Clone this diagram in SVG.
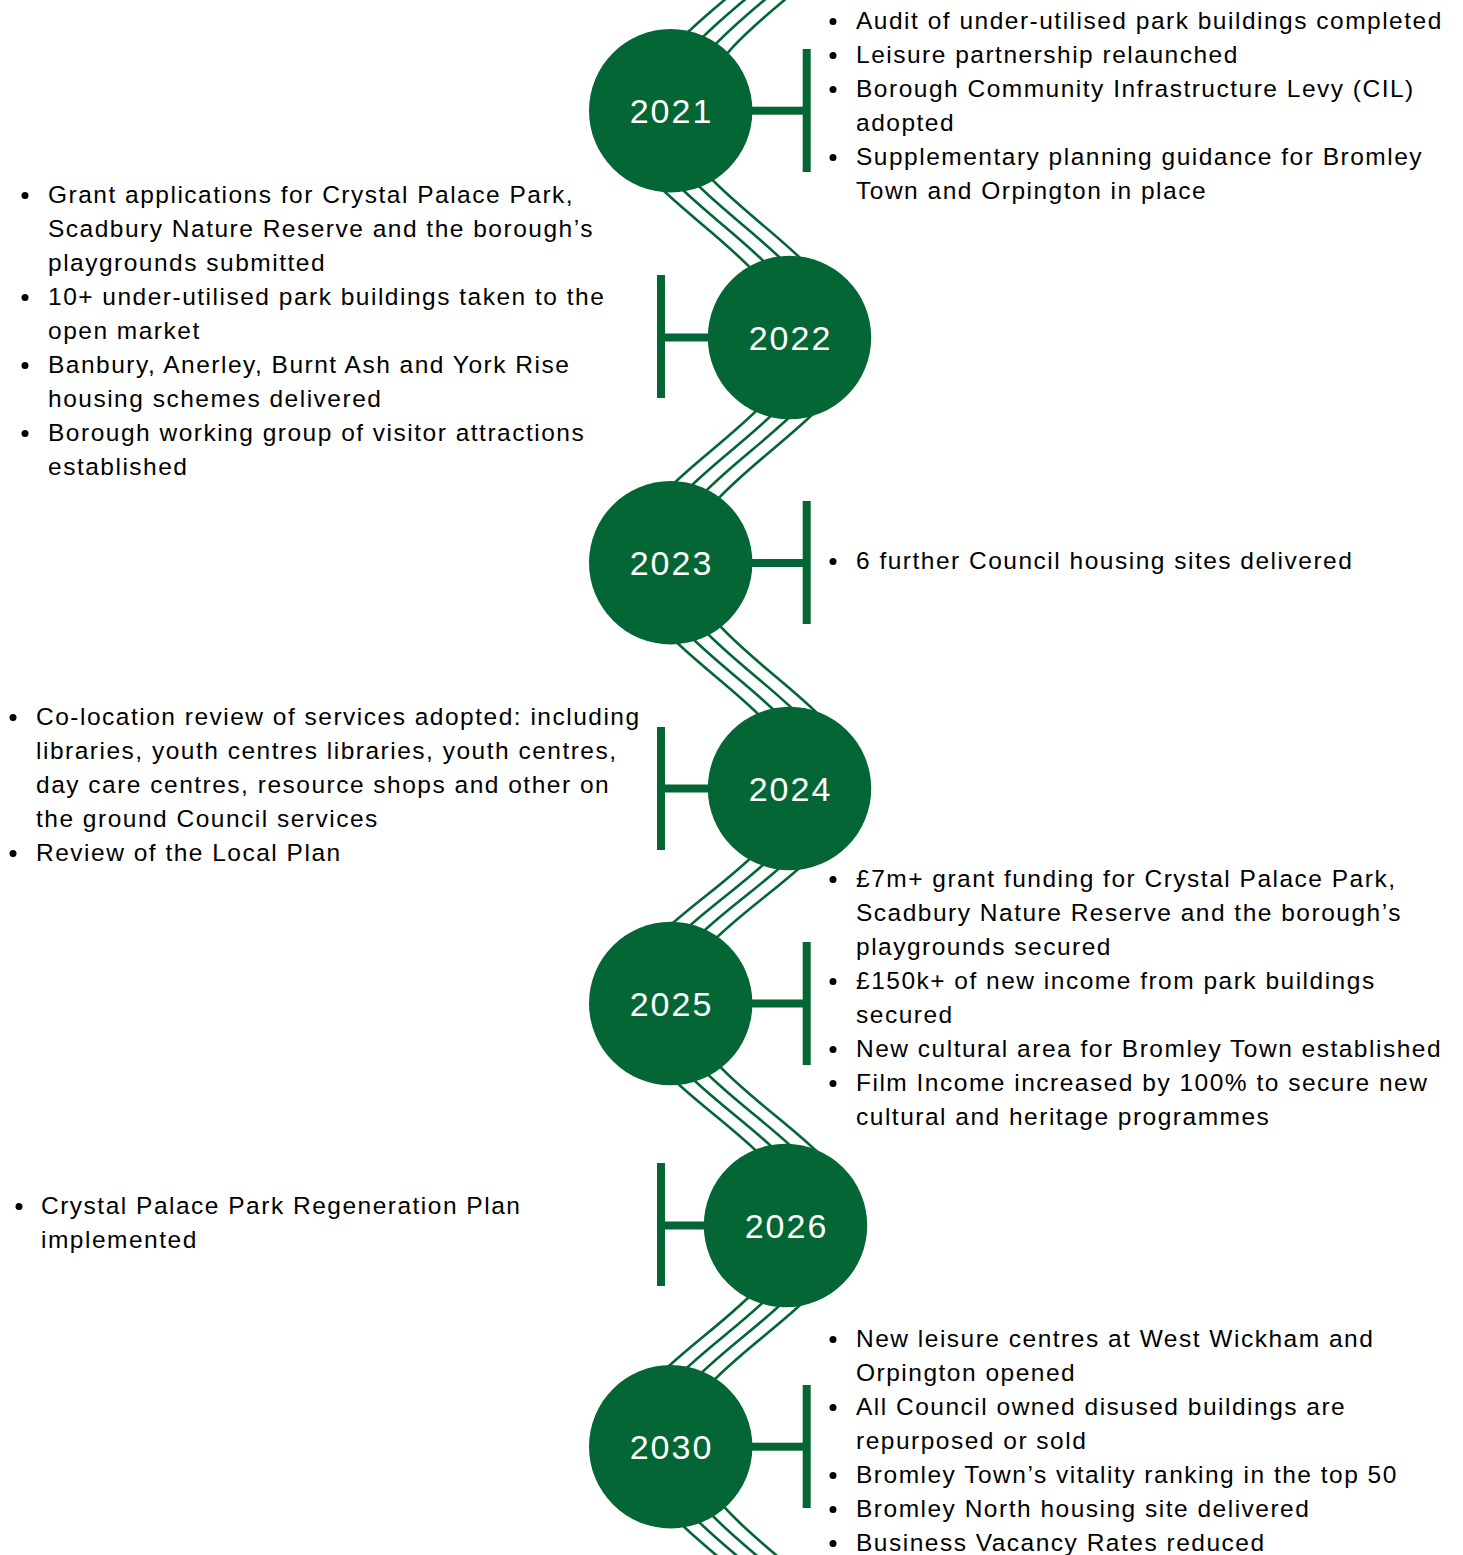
<svg xmlns="http://www.w3.org/2000/svg" xmlns:xlink="http://www.w3.org/1999/xlink" width="1463" height="1555" viewBox="0 0 1463 1555">
<style>
.node{fill:#036634}
.bar{fill:#036634}
.yr{font-family:"Liberation Sans",Arial,sans-serif;font-size:34px;letter-spacing:2px;fill:#ffffff;text-anchor:middle}
.txt{font-family:"Liberation Sans",Arial,sans-serif;font-size:24.5px;letter-spacing:1.5px;fill:#000000}
.dot{fill:#000000}
.wave{fill:none;stroke:#036634;stroke-width:2.6}
</style>
<defs>
<path id="wave" d="M844,-116 C844,-33.7 672,27.7 672,110 M645,110 C645,192.6 817,254.4 817,337 M828,337 C828,419.3 656,480.7 656,563 M659,563 C659,645.3 831,706.7 831,789 M821,789 C821,867.3 649,925.7 649,1004 M658,1004 C658,1084.4 830,1144.6 830,1225 M820,1225 C820,1305.8 648,1366.2 648,1447 M666,1447 C666,1529.3 838,1590.7 838,1673"/>
</defs>
<rect width="1463" height="1555" fill="#ffffff"/>
<g id="connectors" class="wave">
<use xlink:href="#wave" href="#wave" x="-30"/>
<use xlink:href="#wave" href="#wave" x="-10"/>
<use xlink:href="#wave" href="#wave" x="10"/>
<use xlink:href="#wave" href="#wave" x="30"/>
</g>
<g id="node-2021">
<rect class="bar" x="740" y="106.7" width="68" height="8"/>
<rect class="bar" x="802.7" y="49" width="8" height="123"/>
<circle class="node" cx="670.7" cy="110.7" r="81.7"/>
<text class="yr" x="671.5" y="122.7">2021</text>
<g class="dot"><circle cx="833" cy="21.5" r="3.5"/><circle cx="833" cy="55.5" r="3.5"/><circle cx="833" cy="89.5" r="3.5"/><circle cx="833" cy="157.5" r="3.5"/></g>
<text class="txt"><tspan x="856" y="29">Audit of under-utilised park buildings completed</tspan><tspan x="856" y="63">Leisure partnership relaunched</tspan><tspan x="856" y="97">Borough Community Infrastructure Levy (CIL)</tspan><tspan x="856" y="131">adopted</tspan><tspan x="856" y="165">Supplementary planning guidance for Bromley</tspan><tspan x="856" y="199">Town and Orpington in place</tspan></text>
</g>
<g id="node-2022">
<rect class="bar" x="657" y="333.5" width="65" height="8"/>
<rect class="bar" x="657" y="275" width="8" height="123"/>
<circle class="node" cx="789.5" cy="337.5" r="81.7"/>
<text class="yr" x="790.5" y="349.5">2022</text>
<g class="dot"><circle cx="25" cy="195.5" r="3.5"/><circle cx="25" cy="297.5" r="3.5"/><circle cx="25" cy="365.5" r="3.5"/><circle cx="25" cy="433.5" r="3.5"/></g>
<text class="txt"><tspan x="48" y="203">Grant applications for Crystal Palace Park,</tspan><tspan x="48" y="237">Scadbury Nature Reserve and the borough’s</tspan><tspan x="48" y="271">playgrounds submitted</tspan><tspan x="48" y="305">10+ under-utilised park buildings taken to the</tspan><tspan x="48" y="339">open market</tspan><tspan x="48" y="373">Banbury, Anerley, Burnt Ash and York Rise</tspan><tspan x="48" y="407">housing schemes delivered</tspan><tspan x="48" y="441">Borough working group of visitor attractions</tspan><tspan x="48" y="475">established</tspan></text>
</g>
<g id="node-2023">
<rect class="bar" x="740" y="559" width="68" height="8"/>
<rect class="bar" x="802.7" y="501" width="8" height="123"/>
<circle class="node" cx="670.7" cy="562.7" r="81.7"/>
<text class="yr" x="671.5" y="574.7">2023</text>
<circle class="dot" cx="833" cy="561.5" r="3.5"/>
<text class="txt"><tspan x="856" y="569">6 further Council housing sites delivered</tspan></text>
</g>
<g id="node-2024">
<rect class="bar" x="657" y="784.5" width="65" height="8"/>
<rect class="bar" x="657" y="727" width="8" height="123"/>
<circle class="node" cx="789.5" cy="788.5" r="81.7"/>
<text class="yr" x="790.5" y="800.5">2024</text>
<g class="dot"><circle cx="13" cy="717.5" r="3.5"/><circle cx="13" cy="853.5" r="3.5"/></g>
<text class="txt"><tspan x="36" y="725">Co-location review of services adopted: including</tspan><tspan x="36" y="759">libraries, youth centres libraries, youth centres,</tspan><tspan x="36" y="793">day care centres, resource shops and other on</tspan><tspan x="36" y="827">the ground Council services</tspan><tspan x="36" y="861">Review of the Local Plan</tspan></text>
</g>
<g id="node-2025">
<rect class="bar" x="740" y="999.5" width="68" height="8"/>
<rect class="bar" x="802.7" y="942" width="8" height="123"/>
<circle class="node" cx="670.7" cy="1003.5" r="81.7"/>
<text class="yr" x="671.5" y="1015.5">2025</text>
<g class="dot"><circle cx="833" cy="879.5" r="3.5"/><circle cx="833" cy="981.5" r="3.5"/><circle cx="833" cy="1049.5" r="3.5"/><circle cx="833" cy="1083.5" r="3.5"/></g>
<text class="txt"><tspan x="856" y="887">£7m+ grant funding for Crystal Palace Park,</tspan><tspan x="856" y="921">Scadbury Nature Reserve and the borough’s</tspan><tspan x="856" y="955">playgrounds secured</tspan><tspan x="856" y="989">£150k+ of new income from park buildings</tspan><tspan x="856" y="1023">secured</tspan><tspan x="856" y="1057">New cultural area for Bromley Town established</tspan><tspan x="856" y="1091">Film Income increased by 100% to secure new</tspan><tspan x="856" y="1125">cultural and heritage programmes</tspan></text>
</g>
<g id="node-2026">
<rect class="bar" x="657" y="1221.5" width="60" height="8"/>
<rect class="bar" x="657" y="1163" width="8" height="123"/>
<circle class="node" cx="785.5" cy="1225.5" r="81.7"/>
<text class="yr" x="786.5" y="1237.5">2026</text>
<circle class="dot" cx="19" cy="1206.5" r="3.5"/>
<text class="txt"><tspan x="41" y="1214">Crystal Palace Park Regeneration Plan</tspan><tspan x="41" y="1248">implemented</tspan></text>
</g>
<g id="node-2030">
<rect class="bar" x="740" y="1442.7" width="68" height="8"/>
<rect class="bar" x="802.7" y="1385" width="8" height="123"/>
<circle class="node" cx="670.7" cy="1446.7" r="81.7"/>
<text class="yr" x="671.5" y="1458.7">2030</text>
<g class="dot"><circle cx="833" cy="1339.5" r="3.5"/><circle cx="833" cy="1407.5" r="3.5"/><circle cx="833" cy="1475.5" r="3.5"/><circle cx="833" cy="1509.5" r="3.5"/><circle cx="833" cy="1543.5" r="3.5"/></g>
<text class="txt"><tspan x="856" y="1347">New leisure centres at West Wickham and</tspan><tspan x="856" y="1381">Orpington opened</tspan><tspan x="856" y="1415">All Council owned disused buildings are</tspan><tspan x="856" y="1449">repurposed or sold</tspan><tspan x="856" y="1483">Bromley Town’s vitality ranking in the top 50</tspan><tspan x="856" y="1517">Bromley North housing site delivered</tspan><tspan x="856" y="1551">Business Vacancy Rates reduced</tspan></text>
</g>
</svg>
